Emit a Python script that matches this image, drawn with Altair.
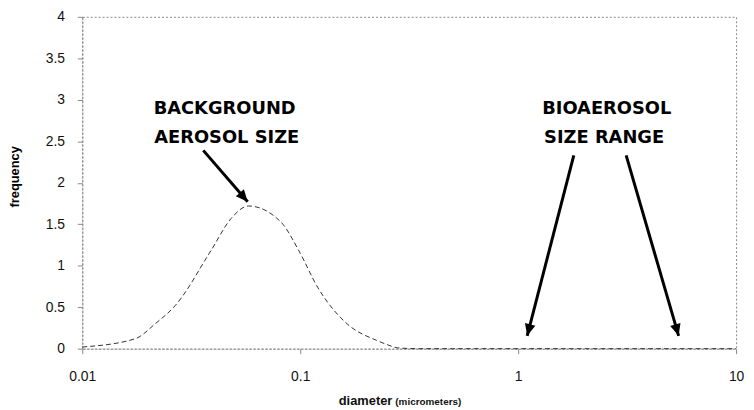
import altair as alt
import pandas as pd

# curve
diam = [0.01, 0.0175, 0.0216, 0.0267, 0.0391, 0.0482, 0.058, 0.0813, 0.1, 0.119,
        0.164, 0.224, 0.25, 0.28, 0.35, 0.5, 1, 2, 5, 10]
freq = [0.02, 0.12, 0.30, 0.52, 1.19, 1.57, 1.72, 1.53, 1.15, 0.76,
        0.30, 0.10, 0.05, 0.01, 0, 0, 0, 0, 0, 0]

# annotation arrows (data coordinates)
arrow_x0 = [0.0359, 1.8, 3.13]
arrow_y0 = [2.39, 2.33, 2.33]
arrow_x1 = [0.0574, 1.1, 5.45]
arrow_y1 = [1.77, 0.155, 0.155]
arrow_angle = [139, 194.5, 163.8]

# annotation labels
label_text = ["BACKGROUND", "AEROSOL SIZE", "BIOAEROSOL", "SIZE RANGE"]
label_x = [0.045, 0.046, 2.55, 2.48]
label_y = [2.89, 2.54, 2.89, 2.54]

x_ticks = [0.01, 0.1, 1, 10]
y_ticks = [0, 0.5, 1, 1.5, 2, 2.5, 3, 3.5, 4]

curve = pd.DataFrame({"diam": diam, "freq": freq})
arrows = pd.DataFrame({"x0": arrow_x0, "y0": arrow_y0, "x1": arrow_x1,
                       "y1": arrow_y1, "angle": arrow_angle})
labels = pd.DataFrame({"t": label_text, "x": label_x, "y": label_y})

xscale = alt.Scale(type="log", domain=[0.01, 10])
yscale = alt.Scale(domain=[0, 4])

xaxis = alt.Axis(values=x_ticks, format="~g",
                 title=None, grid=False, domainColor="#888", domainDash=[2, 2],
                 tickColor="#888", tickSize=5, labelPadding=16,
                 labelFont="Liberation Sans", labelFontSize=14, labelColor="#111",
                 labelFlush=False)
yaxis = alt.Axis(values=y_ticks, format="~g", title="frequency", grid=False, domainColor="#888",
                 domainDash=[2, 2], tickColor="#888", tickSize=5, labelPadding=13,
                 labelFont="Liberation Sans", labelFontSize=14, labelColor="#111",
                 titleFont="Liberation Sans", titleFontSize=13, titleFontWeight="bold",
                 titleX=-68, titleY=161, titleAngle=270, titleAlign="center",
                 titleBaseline="middle")

line = alt.Chart(curve).mark_line(
    color="#333", strokeDash=[5, 3], strokeWidth=1, interpolate="monotone"
).encode(
    x=alt.X("diam:Q", scale=xscale, axis=xaxis),
    y=alt.Y("freq:Q", scale=yscale, axis=yaxis),
)

rules = alt.Chart(arrows).mark_rule(color="black", strokeWidth=3).encode(
    x=alt.X("x0:Q", scale=xscale), y=alt.Y("y0:Q", scale=yscale),
    x2="x1:Q", y2="y1:Q",
)

heads = alt.Chart(arrows).mark_point(
    shape="M0,0L-0.9,2L0.9,2Z", filled=True, color="black", opacity=1, size=144
).encode(
    x=alt.X("x1:Q", scale=xscale), y=alt.Y("y1:Q", scale=yscale),
    angle=alt.Angle("angle:Q", scale=None),
)

texts = alt.Chart(labels).mark_text(
    font="DejaVu Sans", fontWeight="bold", fontSize=18, color="black",
    align="center", baseline="middle"
).encode(
    x=alt.X("x:Q", scale=xscale), y=alt.Y("y:Q", scale=yscale), text="t:N",
)

xt1 = alt.Chart(pd.DataFrame({"t": ["diameter"]})).mark_text(
    font="Liberation Sans", fontWeight="bold", fontSize=13, align="right",
    baseline="middle", color="#111"
).encode(x=alt.value(313), y=alt.value(388), text="t:N")
xt2 = alt.Chart(pd.DataFrame({"t": ["(micrometers)"]})).mark_text(
    font="Liberation Sans", fontWeight="bold", fontSize=10, align="left",
    baseline="middle", color="#111"
).encode(x=alt.value(316), y=alt.value(389), text="t:N")

chart = alt.layer(line, rules, heads, texts, xt1, xt2).properties(
    width=660, height=335,
    autosize=alt.AutoSizeParams(type="none"),
    padding={"left": 75, "top": 7, "right": 10, "bottom": 60},
).configure_view(
    stroke="#888", strokeDash=[2, 2], strokeWidth=1
)

chart.save("out.html", embed_options={"renderer": "svg", "actions": False})
